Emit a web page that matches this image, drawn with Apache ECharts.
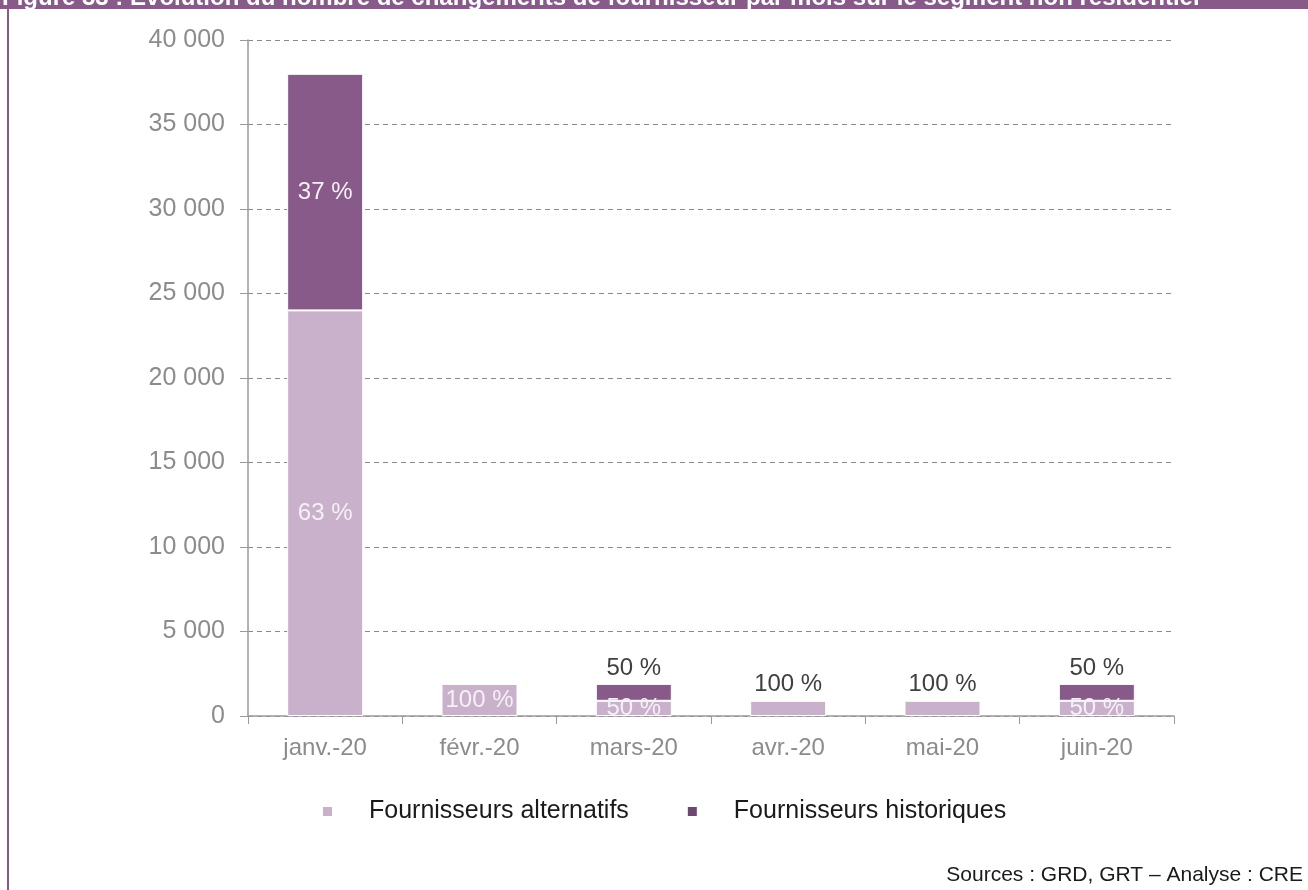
<!DOCTYPE html>
<html>
<head>
<meta charset="utf-8">
<script src="https://cdn.jsdelivr.net/npm/echarts@6/dist/echarts.min.js"></script>
<style>
html,body{margin:0;padding:0;background:#fff;}
#c{width:1308px;height:890px;}
</style>
</head>
<body>
<div id="c"></div>
<script>
var categories = ['janv.-20', 'févr.-20', 'mars-20', 'avr.-20', 'mai-20', 'juin-20'];
var altValues = [24000, 1900, 900, 900, 900, 900];
var histValues = [14000, null, 1000, null, null, 1000];
var altLabels = ['63 %', '100 %', '50 %', '100 %', '100 %', '50 %'];
var histLabels = ['37 %', '', '50 %', '', '', '50 %'];
var altLabelOutside = [false, false, false, true, true, false];
var histLabelOutside = [false, false, true, false, false, true];
var yTicks = [0, 5000, 10000, 15000, 20000, 25000, 30000, 35000, 40000];
var titleText = 'Figure 33 : Evolution du nombre de changements de fournisseur par mois sur le segment non résidentiel';
var sourceText = 'Sources : GRD, GRT \u2013 Analyse : CRE';

var FONT = '"Liberation Sans", Arial, sans-serif';
var ALT = '#c9b1cc', HIST = '#875a89';

function fmt(v){ return String(v).replace(/\B(?=(\d{3})+(?!\d))/g, ' '); }

function buildData(values, labels, outside){
  return values.map(function(v, i){
    if (v === null) return '-';
    return {
      value: v,
      label: outside[i]
        ? {show: true, position: 'top', distance: 4, color: '#404040', formatter: labels[i]}
        : {show: true, position: 'inside', color: '#f6f0f6', formatter: labels[i]}
    };
  });
}

var chart = echarts.init(document.getElementById('c'), null, {renderer: 'canvas'});
chart.setOption({
  animation: false,
  textStyle: {fontFamily: FONT},
  grid: {left: 248, right: 134, top: 40, bottom: 174, containLabel: false},
  legend: {
    top: 794, left: 316,
    icon: 'rect', itemWidth: 11, itemHeight: 11, itemGap: 57,
    textStyle: {fontSize: 25, color: '#1a1a1a', fontFamily: FONT, padding: [0,0,0,31]},
    data: [{name: 'Fournisseurs alternatifs', itemStyle: {color: ALT}},
           {name: 'Fournisseurs historiques', itemStyle: {color: '#6e4672'}}]
  },
  xAxis: {
    type: 'category', data: categories,
    axisLine: {lineStyle: {color: '#9a9a9a', width: 1.5}},
    axisTick: {show: true, length: 8, lineStyle: {color: '#9a9a9a'}},
    axisLabel: {fontSize: 24, color: '#8c8c8c', margin: 20}
  },
  yAxis: {
    type: 'value', min: 0, max: 40000, interval: 5000,
    axisLine: {show: true, lineStyle: {color: '#9a9a9a', width: 1.5}},
    axisTick: {show: true, inside: false, length: 8, lineStyle: {color: '#9a9a9a'}},
    splitLine: {show: true, lineStyle: {color: '#8a8a8a', type: [5, 4], width: 1}},
    axisLabel: {fontSize: 25, color: '#8c8c8c', margin: 23,
      formatter: function(v){ return yTicks.indexOf(v) >= 0 ? fmt(v) : ''; }}
  },
  series: [
    {name: 'Fournisseurs alternatifs', type: 'bar', stack: 's', barWidth: 76,
     itemStyle: {color: ALT, borderColor: '#fff', borderWidth: 1},
     label: {fontSize: 24, fontFamily: FONT},
     data: buildData(altValues, altLabels, altLabelOutside)},
    {name: 'Fournisseurs historiques', type: 'bar', stack: 's', barWidth: 76,
     itemStyle: {color: HIST, borderColor: '#fff', borderWidth: 1},
     label: {fontSize: 24, fontFamily: FONT},
     data: buildData(histValues, histLabels, histLabelOutside)}
  ],
  graphic: [
    {type: 'rect', shape: {x: 0, y: 0, width: 1308, height: 9}, style: {fill: HIST}, silent: true},
    {type: 'rect', shape: {x: 7, y: 0, width: 2, height: 890}, style: {fill: HIST}, silent: true},
    {type: 'text', left: 2, top: -14, style: {text: titleText, fill: '#ffffff', font: 'bold 24px ' + FONT}, silent: true},
    {type: 'text', right: 5, top: 865, style: {text: sourceText, fill: '#1a1a1a', font: '21px ' + FONT}, silent: true}
  ]
});
</script>
</body>
</html>
